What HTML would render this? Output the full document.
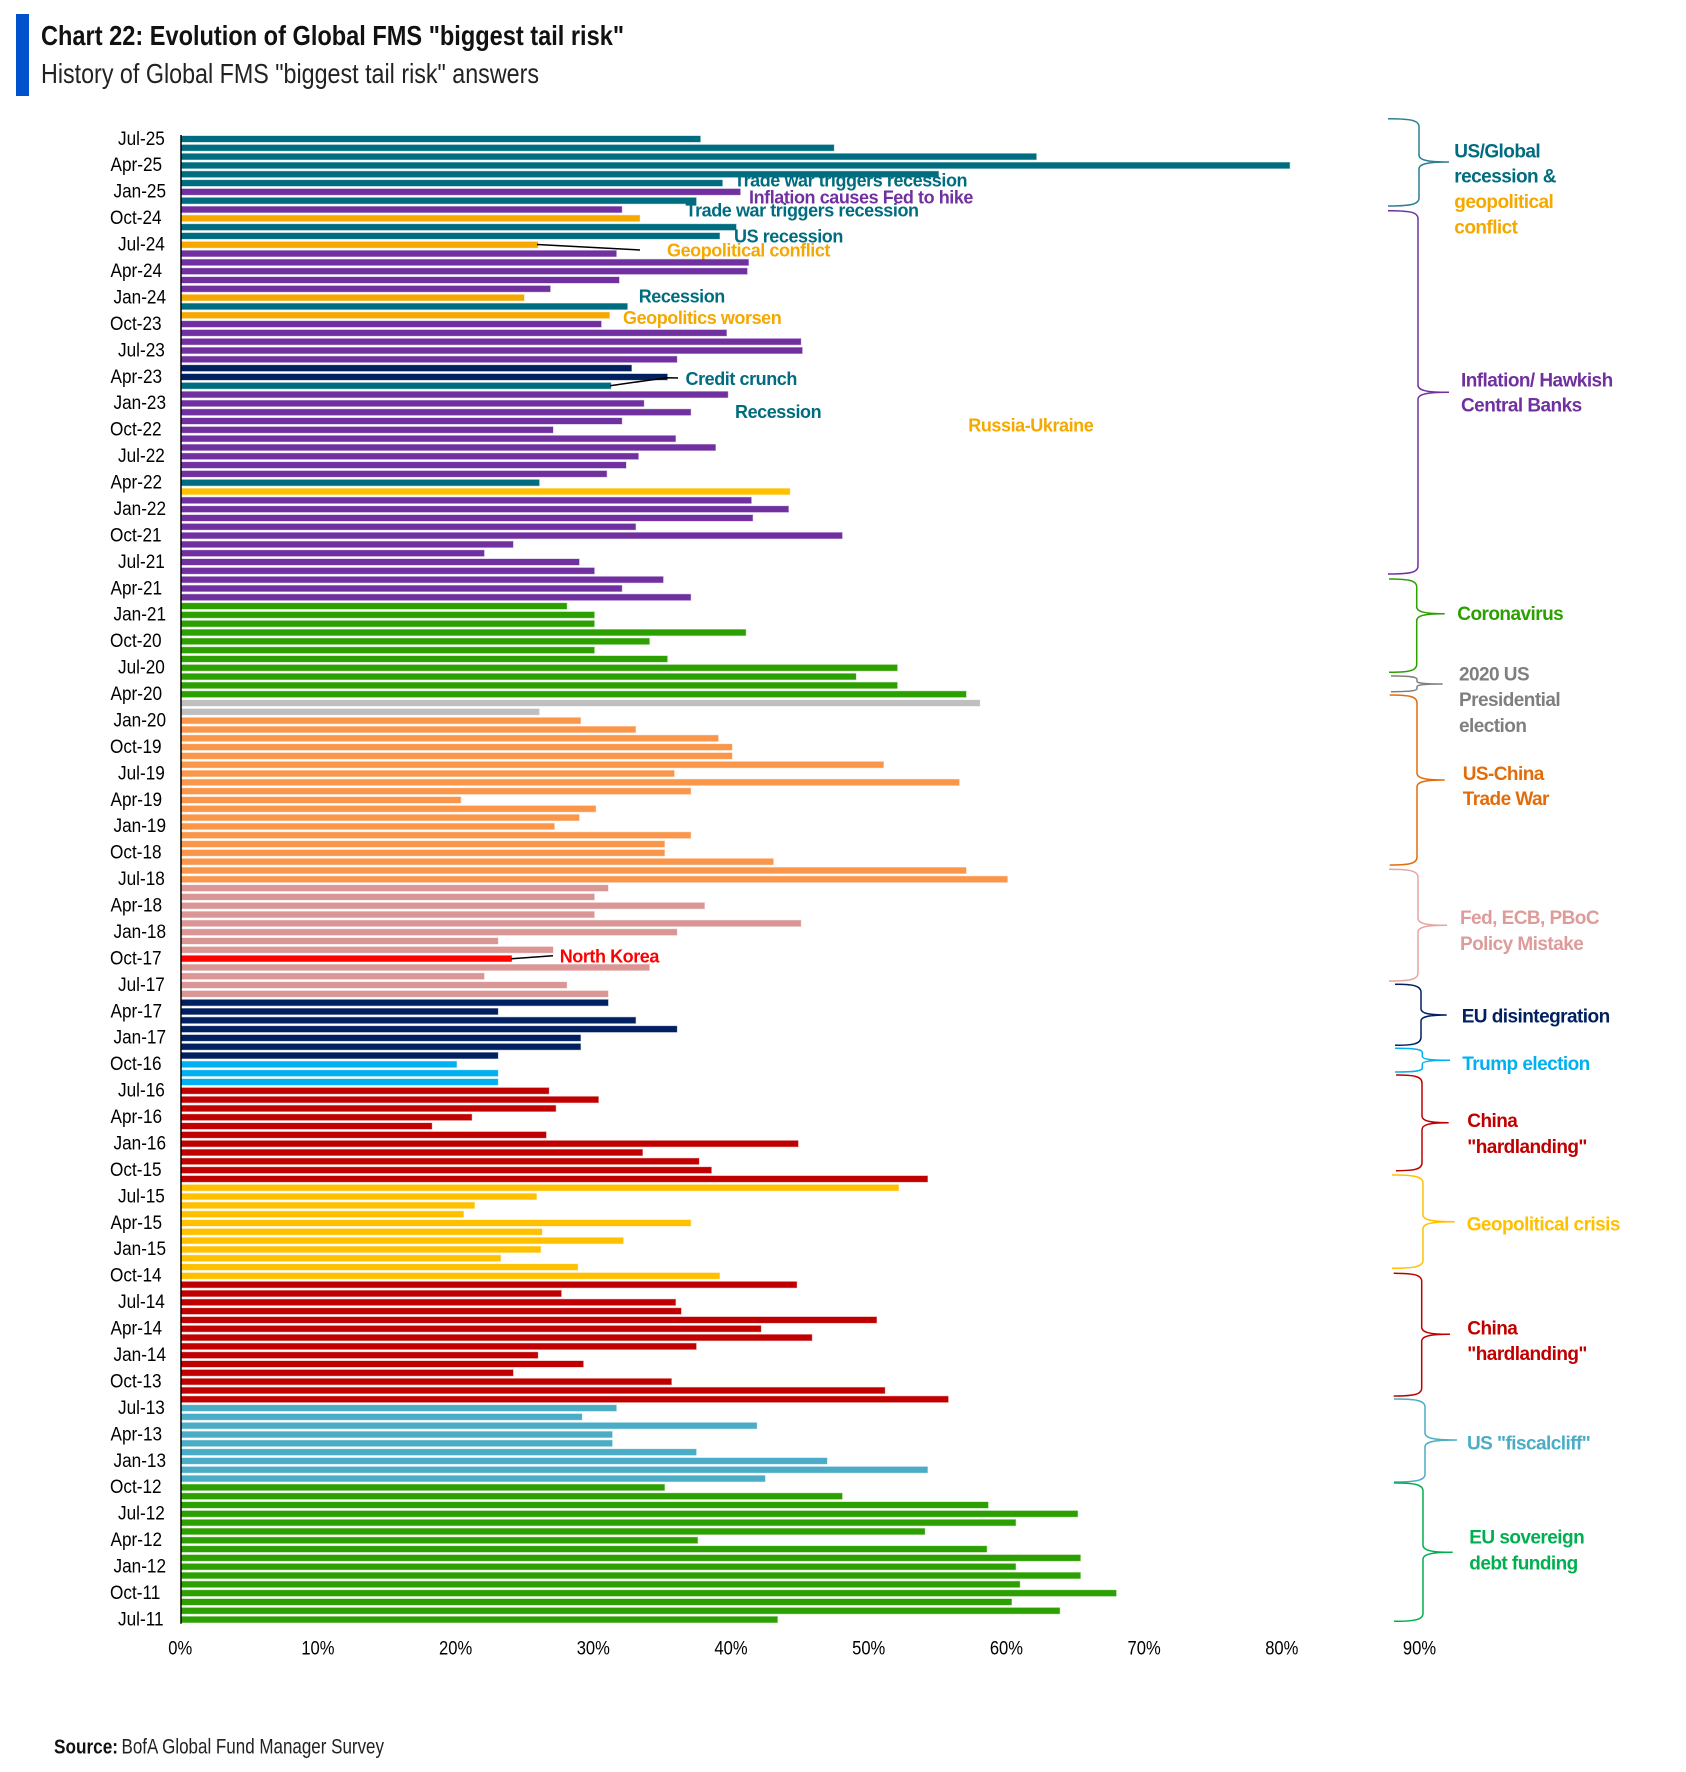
<!DOCTYPE html>
<html lang="en">
<head>
<meta charset="utf-8">
<title>Chart 22: Evolution of Global FMS "biggest tail risk"</title>
<style>
html,body{margin:0;padding:0;background:#fff;}
svg{display:block;}
text{font-family:"Liberation Sans",Arial,sans-serif;}
.note{font-size:18px;font-weight:700;letter-spacing:-.43px;}
.lab{font-size:19px;font-weight:700;letter-spacing:-.55px;}
.brace{fill:none;stroke-width:1.5;}
.leader{fill:none;stroke:#000;stroke-width:1.5;}
.tick{font-size:19px;fill:#000;}
.xtick{font-size:19.5px;fill:#000;}
</style>
</head>
<body>
<svg id="chart" xmlns="http://www.w3.org/2000/svg" width="1686" height="1772" viewBox="0 0 1686 1772">
  <rect x="0" y="0" width="1686" height="1772" fill="#fff"/>
  <rect x="16" y="14" width="13" height="82" fill="#0052CC"/>
  <text x="41" y="45" font-size="28" font-weight="700" fill="#111" textLength="583" lengthAdjust="spacingAndGlyphs">Chart 22: Evolution of Global FMS "biggest tail risk"</text>
  <text x="41" y="83" font-size="28" fill="#222" textLength="498" lengthAdjust="spacingAndGlyphs">History of Global FMS "biggest tail risk" answers</text>

  <g id="annotations-under">
    <text class="note" x="734" y="186.7" fill="#006C80">Trade war triggers recession</text>
    <text class="note" x="749" y="203.3" fill="#7030A0">Inflation causes Fed to hike</text>
    <text class="note" x="685.5" y="216.7" fill="#006C80">Trade war triggers recession</text>
    <text class="note" x="734" y="242.3" fill="#006C80">US recession</text>
    <text class="note" x="667" y="256.7" fill="#F5A800">Geopolitical conflict</text>
    <text class="note" x="638.7" y="302.7" fill="#006C80">Recession</text>
    <text class="note" x="623" y="324" fill="#F5A800">Geopolitics worsen</text>
    <text class="note" x="685.5" y="385" fill="#006C80">Credit crunch</text>
    <text class="note" x="735" y="418" fill="#006C80">Recession</text>
    <text class="note" x="968.3" y="431.7" fill="#F5A800">Russia-Ukraine</text>
    <text class="note" x="559.7" y="962.7" fill="#FF0000">North Korea</text>
  </g>

  <g id="bars"></g>
  <g id="y-ticks"></g>
  <g id="x-ticks"></g>
  <line x1="181" y1="135" x2="181" y2="1623.7" stroke="#000" stroke-width="1.5"/>

  <path class="leader" d="M537 244.5L640 250"/>
  <path class="leader" d="M610 385.7L667 377.7L678 378"/>
  <path class="leader" d="M511.3 958.7L553 955.7"/>

  <g>
    <path class="brace" stroke="#2A7F93" d="M1388 118.7C1408 118.7 1419 119.7 1419 126.7L1419 155C1419 160 1427 162 1449 162C1427 162 1419 164 1419 169L1419 198C1419 205 1408 206 1388 206"/>
    <path class="brace" stroke="#7030A0" d="M1388 210.7C1408 210.7 1418 211.7 1418 218.7L1418 385.3C1418 390.3 1426 392.3 1449 392.3C1426 392.3 1418 394.3 1418 399.3L1418 566C1418 573 1408 574 1388 574"/>
    <path class="brace" stroke="#2CA000" d="M1389 579C1407 579 1416.7 580 1416.7 587L1416.7 606.7C1416.7 611.7 1424 613.7 1444.7 613.7C1424 613.7 1416.7 615.7 1416.7 620.7L1416.7 664.3C1416.7 671.3 1407 672.3 1389 672.3"/>
    <path class="brace" stroke="#7F7F7F" d="M1391 676C1408 676 1417 676.5 1417 679.5L1417 681.5C1417 683 1424 684 1442.7 684C1424 684 1417 685 1417 686.5L1417 688.5C1417 691 1408 691.7 1391 691.7"/>
    <path class="brace" stroke="#E36C0A" d="M1389.7 695C1408 695 1417 696 1417 703L1417 773C1417 778 1424 780 1444.7 780C1424 780 1417 782 1417 787L1417 857C1417 864 1408 865 1389.7 865"/>
    <path class="brace" stroke="#E6A5A3" d="M1389 869.3C1408 869.3 1418 870.3 1418 877.3L1418 918.3C1418 923.3 1425 925.3 1447 925.3C1425 925.3 1418 927.3 1418 932.3L1418 973C1418 980 1408 981 1389 981"/>
    <path class="brace" stroke="#002060" d="M1395 984.3C1412 984.3 1421 985.3 1421 992.3L1421 1009C1421 1013 1428 1015 1446.7 1015C1428 1015 1421 1017 1421 1021L1421 1037.3C1421 1044.3 1412 1045.3 1395 1045.3"/>
    <path class="brace" stroke="#00B0F0" d="M1395 1048.3C1413 1048.3 1422.3 1049 1422.3 1052.5L1422.3 1056.5C1422.3 1059 1430 1060.3 1450 1060.3C1430 1060.3 1422.3 1061.5 1422.3 1064L1422.3 1068C1422.3 1071.3 1413 1072 1395 1072"/>
    <path class="brace" stroke="#C00000" d="M1396 1075C1413 1075 1422 1076 1422 1083L1422 1116C1422 1120.7 1429 1122.7 1448.7 1122.7C1429 1122.7 1422 1124.7 1422 1129.7L1422 1162.7C1422 1169.7 1413 1170.7 1396 1170.7"/>
    <path class="brace" stroke="#FFC000" d="M1392 1175C1412 1175 1423 1176 1423 1183L1423 1215C1423 1219.7 1431 1221.7 1454.7 1221.7C1431 1221.7 1423 1223.7 1423 1228.7L1423 1260.3C1423 1267.3 1412 1268.3 1392 1268.3"/>
    <path class="brace" stroke="#C00000" d="M1393.7 1273.3C1412 1273.3 1421.7 1274.3 1421.7 1281.3L1421.7 1327.3C1421.7 1332.3 1429 1334.3 1450 1334.3C1429 1334.3 1421.7 1336.3 1421.7 1341.3L1421.7 1388C1421.7 1395 1412 1396 1393.7 1396"/>
    <path class="brace" stroke="#4BACC6" d="M1394 1399C1414 1399 1425 1400 1425 1407L1425 1433C1425 1438 1433 1440 1457 1440C1433 1440 1425 1442 1425 1447L1425 1474C1425 1481 1414 1482 1394 1482"/>
    <path class="brace" stroke="#00B050" d="M1394 1483C1413 1483 1423 1484 1423 1491L1423 1545.3C1423 1550.3 1431 1552.3 1452.7 1552.3C1431 1552.3 1423 1554.3 1423 1559.3L1423 1613.3C1423 1620.3 1413 1621.3 1394 1621.3"/>
  </g>

  <g>
    <text class="lab" fill="#006C80"><tspan x="1454.3" y="157.7">US/Global</tspan><tspan x="1454.3" y="182.7">recession &amp;</tspan></text>
    <text class="lab" fill="#F5A800"><tspan x="1454.3" y="208">geopolitical</tspan><tspan x="1454.3" y="233.3">conflict</tspan></text>
    <text class="lab" fill="#7030A0"><tspan x="1461" y="386.7">Inflation/ Hawkish</tspan><tspan x="1461" y="411.7">Central Banks</tspan></text>
    <text class="lab" fill="#2CA000" x="1457.3" y="620">Coronavirus</text>
    <text class="lab" fill="#7F7F7F"><tspan x="1459" y="680.7">2020 US</tspan><tspan x="1459" y="706">Presidential</tspan><tspan x="1459" y="732">election</tspan></text>
    <text class="lab" fill="#E36C0A"><tspan x="1462.7" y="780">US-China</tspan><tspan x="1462.7" y="805">Trade War</tspan></text>
    <text class="lab" fill="#DD9C9A"><tspan x="1460" y="924">Fed, ECB, PBoC</tspan><tspan x="1460" y="950">Policy Mistake</tspan></text>
    <text class="lab" fill="#002060" x="1461.7" y="1022.3">EU disintegration</text>
    <text class="lab" fill="#00B0F0" x="1462.3" y="1070">Trump election</text>
    <text class="lab" fill="#C00000"><tspan x="1467.3" y="1127">China</tspan><tspan x="1467.3" y="1153">"hardlanding"</tspan></text>
    <text class="lab" fill="#FFC000" x="1466.7" y="1230.7">Geopolitical crisis</text>
    <text class="lab" fill="#C00000"><tspan x="1467.3" y="1334.3">China</tspan><tspan x="1467.3" y="1360">"hardlanding"</tspan></text>
    <text class="lab" fill="#4BACC6" x="1467" y="1449.7">US "fiscalcliff"</text>
    <text class="lab" fill="#00B050"><tspan x="1469.3" y="1543.7">EU sovereign</tspan><tspan x="1469.3" y="1569.3">debt funding</tspan></text>
  </g>

  <text x="54" y="1753.7" font-size="20" font-weight="700" fill="#111" textLength="64" lengthAdjust="spacingAndGlyphs">Source:</text>
  <text x="121.5" y="1753.7" font-size="21" fill="#222" textLength="262.5" lengthAdjust="spacingAndGlyphs">BofA Global Fund Manager Survey</text>
</svg>
<script>
const categories = [
"Jul-25","Jun-25","May-25","Apr-25","Mar-25","Feb-25","Jan-25",
"Dec-24","Nov-24","Oct-24","Sep-24","Aug-24","Jul-24","Jun-24","May-24","Apr-24","Mar-24","Feb-24","Jan-24",
"Dec-23","Nov-23","Oct-23","Sep-23","Aug-23","Jul-23","Jun-23","May-23","Apr-23","Mar-23","Feb-23","Jan-23",
"Dec-22","Nov-22","Oct-22","Sep-22","Aug-22","Jul-22","Jun-22","May-22","Apr-22","Mar-22","Feb-22","Jan-22",
"Dec-21","Nov-21","Oct-21","Sep-21","Aug-21","Jul-21","Jun-21","May-21","Apr-21","Mar-21","Feb-21","Jan-21",
"Dec-20","Nov-20","Oct-20","Sep-20","Aug-20","Jul-20","Jun-20","May-20","Apr-20","Mar-20","Feb-20","Jan-20",
"Dec-19","Nov-19","Oct-19","Sep-19","Aug-19","Jul-19","Jun-19","May-19","Apr-19","Mar-19","Feb-19","Jan-19",
"Dec-18","Nov-18","Oct-18","Sep-18","Aug-18","Jul-18","Jun-18","May-18","Apr-18","Mar-18","Feb-18","Jan-18",
"Dec-17","Nov-17","Oct-17","Sep-17","Aug-17","Jul-17","Jun-17","May-17","Apr-17","Mar-17","Feb-17","Jan-17",
"Dec-16","Nov-16","Oct-16","Sep-16","Aug-16","Jul-16","Jun-16","May-16","Apr-16","Mar-16","Feb-16","Jan-16",
"Dec-15","Nov-15","Oct-15","Sep-15","Aug-15","Jul-15","Jun-15","May-15","Apr-15","Mar-15","Feb-15","Jan-15",
"Dec-14","Nov-14","Oct-14","Sep-14","Aug-14","Jul-14","Jun-14","May-14","Apr-14","Mar-14","Feb-14","Jan-14",
"Dec-13","Nov-13","Oct-13","Sep-13","Aug-13","Jul-13","Jun-13","May-13","Apr-13","Mar-13","Feb-13","Jan-13",
"Dec-12","Nov-12","Oct-12","Sep-12","Aug-12","Jul-12","Jun-12","May-12","Apr-12","Mar-12","Feb-12","Jan-12",
"Dec-11","Nov-11","Oct-11","Sep-11","Aug-11","Jul-11"
];
const shares = [
37.7,47.4,62.1,80.5,55.0,39.3,40.6,
37.4,32.0,33.3,40.3,39.1,25.9,31.6,41.2,41.1,31.8,26.8,24.9,
32.4,31.1,30.5,39.6,45.0,45.1,36.0,32.7,35.3,31.2,39.7,33.6,
37.0,32.0,27.0,35.9,38.8,33.2,32.3,30.9,26.0,44.2,41.4,44.1,
41.5,33.0,48.0,24.1,22.0,28.9,30.0,35.0,32.0,37.0,28.0,30.0,
30.0,41.0,34.0,30.0,35.3,52.0,49.0,52.0,57.0,58.0,26.0,29.0,
33.0,39.0,40.0,40.0,51.0,35.8,56.5,37.0,20.3,30.1,28.9,27.1,
37.0,35.1,35.1,43.0,57.0,60.0,31.0,30.0,38.0,30.0,45.0,36.0,
23.0,27.0,24.0,34.0,22.0,28.0,31.0,31.0,23.0,33.0,36.0,29.0,
29.0,23.0,20.0,23.0,23.0,26.7,30.3,27.2,21.1,18.2,26.5,44.8,
33.5,37.6,38.5,54.2,52.1,25.8,21.3,20.5,37.0,26.2,32.1,26.1,
23.2,28.8,39.1,44.7,27.6,35.9,36.3,50.5,42.1,45.8,37.4,25.9,
29.2,24.1,35.6,51.1,55.7,31.6,29.1,41.8,31.3,31.3,37.4,46.9,
54.2,42.4,35.1,48.0,58.6,65.1,60.6,54.0,37.5,58.5,65.3,60.6,
65.3,60.9,67.9,60.3,63.8,43.3
];
const themes = [
"rec","rec","rec","rec","rec","rec","inf",
"rec","inf","geo","rec","rec","geo","inf","inf","inf","inf","inf","geo",
"rec","geo","inf","inf","inf","inf","inf","eu","eu","rec","inf","inf",
"inf","inf","inf","inf","inf","inf","inf","inf","rec","gc","inf","inf",
"inf","inf","inf","inf","inf","inf","inf","inf","inf","inf","cov","cov",
"cov","cov","cov","cov","cov","cov","cov","cov","cov","ele","ele","tw",
"tw","tw","tw","tw","tw","tw","tw","tw","tw","tw","tw","tw",
"tw","tw","tw","tw","tw","tw","pol","pol","pol","pol","pol","pol",
"pol","pol","nk","pol","pol","pol","pol","eu","eu","eu","eu","eu",
"eu","eu","tr","tr","tr","ch","ch","ch","ch","ch","ch","ch",
"ch","ch","ch","ch","gc","gc","gc","gc","gc","gc","gc","gc",
"gc","gc","gc","ch","ch","ch","ch","ch","ch","ch","ch","ch",
"ch","ch","ch","ch","ch","fc","fc","fc","fc","fc","fc","fc",
"fc","fc","cov","cov","cov","cov","cov","cov","cov","cov","cov","cov",
"cov","cov","cov","cov","cov","cov"
];
const xTickValues = [0,10,20,30,40,50,60,70,80,90];

const themeColor = {rec:"#006C80",inf:"#7030A0",geo:"#F5A800",gc:"#FFC000",eu:"#002060",cov:"#2CA000",ele:"#BFBFBF",tw:"#F9964A",pol:"#D99694",nk:"#FF0000",tr:"#00B0F0",ch:"#C00000",fc:"#4BACC6"};
const labelStart = {Jul:118,Apr:110.5,Jan:113.5,Oct:110};
const SVGNS = "http://www.w3.org/2000/svg";
function xScale(v){ return 181.2 + v * 13.77; }
function yScale(i){ return 139 + i * 8.813; }

const barsG = document.getElementById("bars");
const yTicksG = document.getElementById("y-ticks");
const xTicksG = document.getElementById("x-ticks");

shares.forEach(function(v, i){
  const el = document.createElementNS(SVGNS, "rect");
  
  
  el.setAttribute("x", xScale(0));
  el.setAttribute("y", yScale(i) - 3);
  el.setAttribute("width", xScale(v) - xScale(0));
  el.setAttribute("height", 6);
  el.setAttribute("fill", themeColor[themes[i]]);
  el.setAttribute("stroke", themeColor[themes[i]]);
  el.setAttribute("stroke-opacity", "0.35");
  el.setAttribute("stroke-width", "1");
  barsG.appendChild(el);
});

categories.forEach(function(c, i){
  if (i % 3 !== 0) return;
  const el = document.createElementNS(SVGNS, "text");
  
  
  el.setAttribute("class", "tick");
  el.setAttribute("transform", "translate(" + labelStart[c.slice(0,3)] + "," + (yScale(i) + 5.8) + ") scale(0.905,1)");
  el.textContent = c;
  yTicksG.appendChild(el);
});

xTickValues.forEach(function(t){
  const el = document.createElementNS(SVGNS, "text");
  
  
  el.setAttribute("class", "xtick");
  el.setAttribute("text-anchor", "middle");
  el.setAttribute("transform", "translate(" + (xScale(t) - 1) + ",1654.7) scale(0.85,1)");
  el.textContent = t + "%";
  xTicksG.appendChild(el);
});
</script>
</body>
</html>
